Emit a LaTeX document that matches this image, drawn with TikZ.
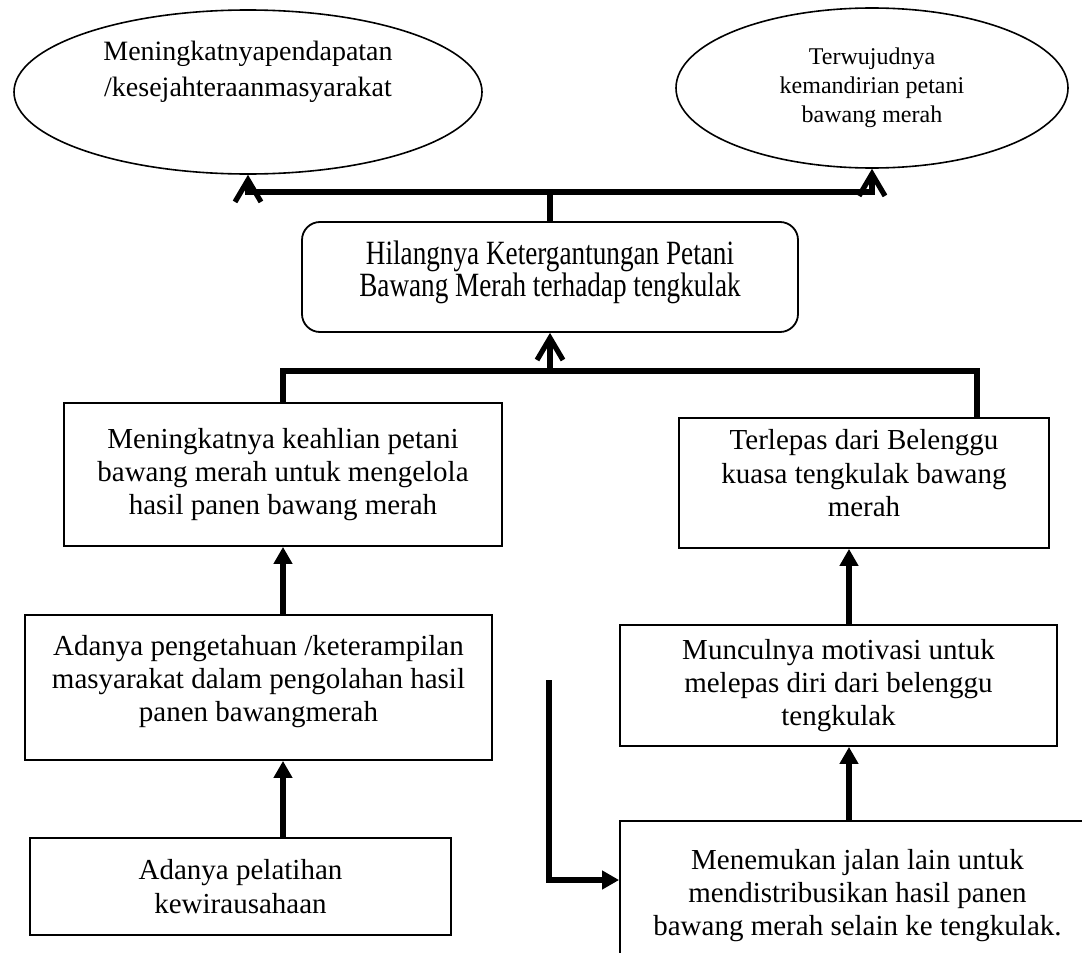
\documentclass[tikz,border=0pt]{standalone}
\usepackage{fontspec}
\setmainfont{Liberation Serif}
\newfontfamily\condfont[FakeStretch=0.8]{Liberation Serif}
\usetikzlibrary{arrows.meta,shapes.geometric}
\begin{document}
\begin{tikzpicture}[x=0.5pt,y=-0.5pt,
  stdbox/.style={draw, line width=0.9pt, align=center, inner sep=0pt,
    font=\fontsize{14.5}{16.7}\selectfont},
  ellbox/.style={draw, ellipse, line width=0.8pt, align=center, inner sep=0pt},
  roundbox/.style={draw, rectangle, rounded corners=9pt, line width=0.9pt, align=center, inner sep=0pt,
    font=\condfont\fontsize{17}{16}\selectfont},
  conn/.style={line width=2.6pt},
  tri/.style={-{Triangle[length=8.5pt,width=9pt]}},
  barb/.style={-{Straight Barb[length=11pt,width=13pt]}}]
\useasboundingbox (0,0) rectangle (1082,953);

% goals
\node[ellbox, minimum width=234pt, minimum height=82pt,
  font=\fontsize{14}{18}\selectfont] (goal1) at (248,92)
  {Meningkatnyapendapatan\\/kesejahteraanmasyarakat\\[5pt]\mbox{}};
\node[ellbox, minimum width=196pt, minimum height=80pt,
  font=\fontsize{12}{14.5}\selectfont] (goal2) at (872,88)
  {Terwujudnya\\kemandirian petani\\bawang merah};

% central
\node[roundbox, minimum width=248pt, minimum height=55pt] (hil) at (550,277)
  {Hilangnya Ketergantungan Petani\\Bawang Merah terhadap tengkulak\\[-7.3pt]\mbox{}};

% left column
\node[stdbox, minimum width=219pt, minimum height=71.5pt] (ming) at (283,474.5)
  {Meningkatnya keahlian petani\\bawang merah untuk mengelola\\hasil panen bawang merah};
\node[stdbox, minimum width=233.5pt, minimum height=72.5pt] (peng) at (258.5,687.5)
  {Adanya pengetahuan /keterampilan\\masyarakat dalam pengolahan hasil\\panen bawangmerah\\[-7.6pt]\mbox{}};
\node[stdbox, minimum width=210.5pt, minimum height=48.5pt] (pel) at (240.5,886.5)
  {Adanya pelatihan\\kewirausahaan};

% right column
\node[stdbox, minimum width=185pt, minimum height=65pt] (terl) at (864,483)
  {Terlepas dari Belenggu\\kuasa tengkulak bawang\\merah\\[-6.7pt]\mbox{}};
\node[stdbox, minimum width=218.5pt, minimum height=60.5pt] (mun) at (838.5,685.5)
  {Munculnya motivasi untuk\\melepas diri dari belenggu\\tengkulak};
\node[stdbox, minimum width=237.5pt, minimum height=74.5pt] (men) at (857.5,895.5)
  {Menemukan jalan lain untuk\\mendistribusikan hasil panen\\bawang merah selain ke tengkulak.};

% helper coordinates
\coordinate (topbar) at (550,192);
\coordinate (midbar) at (550,371);
\coordinate (rjoin) at (977,371);
\coordinate (rcol) at (849,700);
\coordinate (elbtop) at (549,680);
\coordinate (elbbot) at (549,880);

% connectors
\draw[conn] (hil.north) -- (topbar);
\draw[conn, barb] (topbar) -| (goal1.south);
\draw[conn, barb] (topbar) -| (goal2.south);

\draw[conn] (ming.north) |- (rjoin) -- (terl.north -| rjoin);
\draw[conn, barb] (midbar) -- (hil.south);

\draw[conn, tri] (peng.north -| ming.south) -- (ming.south);
\draw[conn, tri] (pel.north -| ming.south) -- (peng.south -| ming.south);

\draw[conn, tri] (mun.north -| rcol) -- (terl.south -| rcol);
\draw[conn, tri] (men.north -| rcol) -- (mun.south -| rcol);

\draw[conn, tri] (elbtop) -- (elbbot) -- (elbbot -| men.west);
\end{tikzpicture}
\end{document}
